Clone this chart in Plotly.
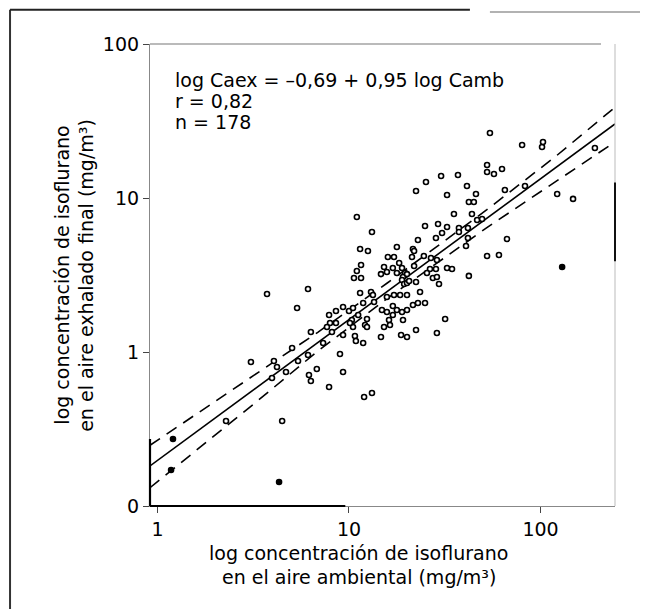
import plotly.graph_objects as go

# log10 of ambient concentration (mg/m3) and of end-exhaled concentration (mg/m3)
log_camb = [
    1.736, 1.904, 2.008, 2.013, 2.284, 1.721, 1.721, 1.757, 1.799, 1.569,
    1.481, 1.402, 1.350, 1.616, 1.512, 1.663, 1.626, 1.652, 1.814, 1.919,
    2.087, 2.170, 1.548, 1.642, 1.397, 1.465, 1.512, 1.574, 1.621, 1.669,
    1.695, 1.486, 1.454, 1.360, 1.574, 1.621, 1.611, 1.825, 1.334, 1.041,
    1.120, 1.250, 1.058, 1.099, 1.203, 1.235, 1.063, 1.041, 1.026, 1.063,
    1.262, 1.277, 1.229, 1.183, 1.167, 1.198, 1.250, 1.293, 1.282, 1.277,
    1.288, 1.303, 0.572, 0.786, 0.729, 1.058, 1.115, 1.125, 1.074, 1.131,
    1.198, 1.235, 1.267, 1.303, 1.229, 1.250, 1.277, 1.303, 1.172, 1.198,
    1.229, 1.209, 1.282, 0.896, 0.932, 0.969, 1.000, 1.021, 1.048, 1.094,
    1.015, 0.901, 0.932, 0.885, 1.021, 1.084, 1.094, 1.183, 1.214, 1.721,
    1.783, 2.113, 1.340, 1.329, 1.391, 1.428, 1.459, 1.340, 1.423, 1.454,
    1.512, 1.538, 1.407, 1.438, 1.459, 1.626, 1.470, 1.303, 1.314, 1.350,
    1.371, 1.334, 1.360, 1.397, 1.502, 1.350, 0.488, 0.608, 0.624, 0.671,
    0.598, 0.703, 0.734, 0.786, 0.801, 0.865, 0.911, 0.969, 1.005, 1.031,
    1.036, 1.074, 1.167, 1.272, 1.303, 0.953, 0.832, 0.791, 0.801, 0.969,
    0.896, 1.079, 1.120, 0.358, 0.081, 0.071, 0.651, 0.635, 1.459,
]
log_caex = [
    1.422, 1.344, 1.331, 1.364, 1.325, 1.214, 1.169, 1.156, 1.188, 1.149,
    1.143, 1.104, 1.045, 1.078, 1.019, 1.026, 0.974, 0.974, 1.052, 1.078,
    1.026, 0.994, 0.896, 0.896, 0.818, 0.831, 0.812, 0.805, 0.805, 0.857,
    0.864, 0.773, 0.740, 0.727, 0.779, 0.740, 0.688, 0.734, 0.669, 0.877,
    0.779, 0.682, 0.669, 0.656, 0.617, 0.617, 0.565, 0.526, 0.481, 0.481,
    0.578, 0.545, 0.545, 0.552, 0.506, 0.519, 0.513, 0.513, 0.487, 0.468,
    0.442, 0.448, 0.377, 0.409, 0.286, 0.383, 0.390, 0.370, 0.318, 0.325,
    0.357, 0.370, 0.370, 0.370, 0.299, 0.273, 0.260, 0.273, 0.273, 0.260,
    0.240, 0.208, 0.208, 0.240, 0.266, 0.292, 0.266, 0.286, 0.240, 0.214,
    0.208, 0.188, 0.188, 0.162, 0.162, 0.175, 0.162, 0.162, 0.175, 0.623,
    0.630, 0.552, 0.656, 0.617, 0.623, 0.610, 0.597, 0.558, 0.539, 0.539,
    0.545, 0.539, 0.513, 0.481, 0.487, 0.494, 0.442, 0.506, 0.461, 0.455,
    0.390, 0.305, 0.318, 0.318, 0.214, 0.143, -0.065, -0.058, -0.097, -0.130,
    -0.169, 0.026, -0.058, -0.019, 0.130, 0.058, 0.130, 0.110, 0.188, 0.104,
    0.071, 0.058, 0.097, 0.110, 0.097, -0.013, -0.110, -0.149, -0.188, -0.130,
    -0.227, -0.292, -0.266, -0.448, -0.565, -0.766, -0.448, -0.844, 0.123,
]
filled_points = [101, 154, 155, 157]  # indices of solid dots

x_range = [-0.039, 2.389]
y_range = [-1.0, 2.0]

# fitted line as drawn (log Caex = -0,69 + 0,95 log Camb), end points
fit_lx = [-0.039, 2.389]
fit_ly = [-0.740, 1.481]

# confidence band (dashed)
band_lx = [-0.039, 0.525, 0.837, 1.200, 1.720, 2.084, 2.389]
band_upper = [-0.606, -0.135, 0.128, 0.448, 0.924, 1.275, 1.589]
band_lower = [-0.881, -0.315, 0.006, 0.348, 0.808, 1.110, 1.364]

x_tickvals = [0, 1, 2]
x_ticktext = ["1", "10", "100"]
y_tickvals = [-1, 0, 1, 2]
y_ticktext = ["0", "1", "10", "100"]

eq_lines = ["log Caex = \u20130,69 + 0,95 log Camb", "r = 0,82", "n = 178"]
x_title = ["log concentración de isoflurano", "en el aire ambiental (mg/m³)"]
y_title = ["log concentración de isoflurano", "en el aire exhalado final (mg/m³)"]

FONT = "DejaVu Sans"
fs = 19

fig = go.Figure()

fig.add_trace(go.Scatter(x=fit_lx, y=fit_ly, mode="lines",
                         line=dict(color="black", width=1.6), hoverinfo="skip"))
fig.add_trace(go.Scatter(x=band_lx, y=band_upper, mode="lines",
                         line=dict(color="black", width=1.6, dash="12px,8px"), hoverinfo="skip"))
fig.add_trace(go.Scatter(x=band_lx, y=band_lower, mode="lines",
                         line=dict(color="black", width=1.6, dash="12px,8px"), hoverinfo="skip"))

fill_colors = ["black" if i in filled_points else "white" for i in range(len(log_camb))]
fig.add_trace(go.Scatter(x=log_camb, y=log_caex, mode="markers",
                         marker=dict(symbol="circle", size=5, color=fill_colors,
                                     line=dict(color="black", width=1.6))))

for i, t in enumerate(eq_lines):
    fig.add_annotation(x=0.05, y=0.922 - i * 0.0455, xref="paper", yref="paper",
                       text=t, showarrow=False, xanchor="left", yanchor="middle",
                       font=dict(family=FONT, size=fs, color="black"))

for i, t in enumerate(x_title):
    fig.add_annotation(x=0.449, y=-0.102 - i * 0.052, xref="paper", yref="paper",
                       text=t, showarrow=False, xanchor="center", yanchor="middle",
                       font=dict(family=FONT, size=fs, color="black"))

for i, t in enumerate(y_title):
    fig.add_annotation(x=-0.190 + i * 0.052, y=0.5, xref="paper", yref="paper",
                       text=t, showarrow=False, xanchor="center", yanchor="middle",
                       textangle=-90,
                       font=dict(family=FONT, size=fs, color="black"))

# scanned page frame
fig.add_shape(type="line", xref="paper", yref="paper", x0=-0.301, x1=-0.301, y0=1.074, y1=-0.223,
              line=dict(color="#333", width=2))
fig.add_shape(type="line", xref="paper", yref="paper", x0=-0.301, x1=0.688, y0=1.074, y1=1.074,
              line=dict(color="#222", width=2))
fig.add_shape(type="line", xref="paper", yref="paper", x0=0.731, x1=1.08, y0=1.069, y1=1.069,
              line=dict(color="#999", width=1.5))
# plot borders as printed: faint top/right, darker lower-left parts of the axes
fig.add_shape(type="line", xref="paper", yref="paper", x0=0, x1=0.97, y0=1, y1=1,
              line=dict(color="#777", width=1.2))
fig.add_shape(type="line", xref="paper", yref="paper", x0=1, x1=1, y0=0, y1=1,
              line=dict(color="#bbb", width=1.0))
fig.add_shape(type="line", xref="paper", yref="paper", x0=1, x1=1, y0=0.53, y1=0.70,
              line=dict(color="#111", width=2))
fig.add_shape(type="line", xref="paper", yref="paper", x0=0, x1=0.42, y0=0, y1=0,
              line=dict(color="black", width=2.2))
fig.add_shape(type="line", xref="paper", yref="paper", x0=0, x1=0, y0=0, y1=0.145,
              line=dict(color="black", width=2.2))

fig.update_layout(
    width=640, height=601,
    margin=dict(l=142, r=33, t=36, b=103),
    paper_bgcolor="white", plot_bgcolor="white",
    showlegend=False,
    font=dict(family=FONT, size=fs, color="black"),
    xaxis=dict(range=x_range, tickvals=x_tickvals, ticktext=x_ticktext,
               showgrid=False, zeroline=False, showline=True, linecolor="#888", linewidth=1.2,
               mirror=False, ticks="outside", ticklen=6, tickcolor="#444",
               tickfont=dict(family=FONT, size=fs)),
    yaxis=dict(range=y_range, tickvals=y_tickvals, ticktext=y_ticktext,
               showgrid=False, zeroline=False, showline=True, linecolor="#888", linewidth=1.2,
               mirror=False, ticks="outside", ticklen=6, tickcolor="#444",
               tickfont=dict(family=FONT, size=fs)),
)

fig.write_html("out.html")
